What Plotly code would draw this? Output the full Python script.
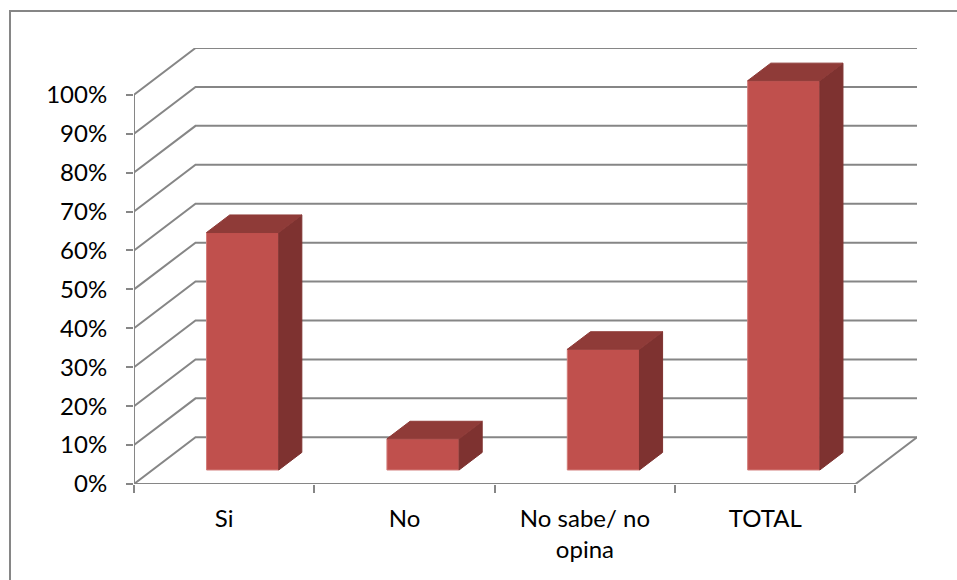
import plotly.graph_objects as go

# ---- data ----
categories = ["Si", "No", "No sabe/ no<br>opina", "TOTAL"]
values = [61, 8, 31, 100]
y_ticks = [0, 10, 20, 30, 40, 50, 60, 70, 80, 90, 100]
y_ticktext = [f"{v}%" for v in y_ticks]

# ---- 3D oblique projection parameters (in axis units) ----
DX = 0.341      # depth shift along x (category units)
DZ = 12.0       # depth shift along y (percent units)
D_FRONT = 0.30  # bar front depth fraction
D_BACK = 0.676  # bar back depth fraction
BAR_W = 0.40
X_MIN, X_MAX = -0.5, len(categories) - 0.5

GRID = "#868686"
FRONT = "#C0504D"
TOP = "#8F3B38"
SIDE = "#7E3230"


def P(x, y, d):
    return x + d * DX, y + d * DZ


fig = go.Figure()

# gridlines on side and back walls
for k in y_ticks:
    pts = [P(X_MIN, k, 0), P(X_MIN, k, 1), P(X_MAX, k, 1)]
    fig.add_trace(go.Scatter(x=[p[0] for p in pts], y=[p[1] for p in pts], mode="lines",
                             line=dict(color=GRID, width=2), hoverinfo="skip", showlegend=False))

# floor outline
floor = [P(X_MIN, 0, 0), P(X_MAX, 0, 0), P(X_MAX, 0, 1)]
fig.add_trace(go.Scatter(x=[p[0] for p in floor], y=[p[1] for p in floor], mode="lines",
                         line=dict(color=GRID, width=2), hoverinfo="skip", showlegend=False))
# vertical axis line
fig.add_trace(go.Scatter(x=[X_MIN, X_MIN], y=[-0.9, y_ticks[-1]], mode="lines",
                         line=dict(color=GRID, width=2), hoverinfo="skip", showlegend=False))

# bars
for i, v in enumerate(values):
    x0 = i - BAR_W / 2
    x1 = i + BAR_W / 2
    faces = [
        ([P(x0, 0, D_FRONT), P(x1, 0, D_FRONT), P(x1, v, D_FRONT), P(x0, v, D_FRONT)], FRONT, "#D27C79"),
        ([P(x1, 0, D_FRONT), P(x1, 0, D_BACK), P(x1, v, D_BACK), P(x1, v, D_FRONT)], SIDE, SIDE),
        ([P(x0, v, D_FRONT), P(x1, v, D_FRONT), P(x1, v, D_BACK), P(x0, v, D_BACK)], TOP, TOP),
    ]
    for pts, fc, lc in faces:
        xs = [p[0] for p in pts] + [pts[0][0]]
        ys = [p[1] for p in pts] + [pts[0][1]]
        fig.add_trace(go.Scatter(x=xs, y=ys, mode="lines", fill="toself", fillcolor=fc,
                                 line=dict(color=lc, width=1), hoverinfo="skip", showlegend=False))

W, H = 957, 580
ML, MR, MT, MB = 134, 40, 48, 96
pw, ph = W - ML - MR, H - MT - MB


def px_x(px):
    return (px - ML) / pw


def px_y(py):
    return (H - MB - py) / ph


fig.update_layout(
    width=W, height=H,
    margin=dict(l=ML, r=MR, t=MT, b=MB),
    paper_bgcolor="white", plot_bgcolor="white",
    font=dict(family="Lato", size=24, color="black"),
    xaxis=dict(range=[X_MIN, X_MAX + DX], showgrid=False, zeroline=False, showline=False,
               tickvals=list(range(len(categories))), ticktext=categories,
               ticks="", ticklabelstandoff=18, fixedrange=True,
               minor=dict(tickvals=[i - 0.5 for i in range(len(categories) + 1)],
                          ticks="outside", ticklen=8, tickcolor=GRID, tickwidth=2, showgrid=False)),
    yaxis=dict(range=[0, y_ticks[-1] + DZ], showgrid=False, zeroline=False, showline=False,
               tickvals=y_ticks, ticktext=y_ticktext, ticks="outside", ticklen=7,
               tickcolor=GRID, tickwidth=2, ticklabelstandoff=14, fixedrange=True),
    shapes=[dict(type="rect", xref="paper", yref="paper",
                 x0=px_x(10), x1=px_x(970), y0=px_y(600), y1=px_y(11),
                 line=dict(color=GRID, width=2), layer="below")],
)

fig.write_html("out.html")
